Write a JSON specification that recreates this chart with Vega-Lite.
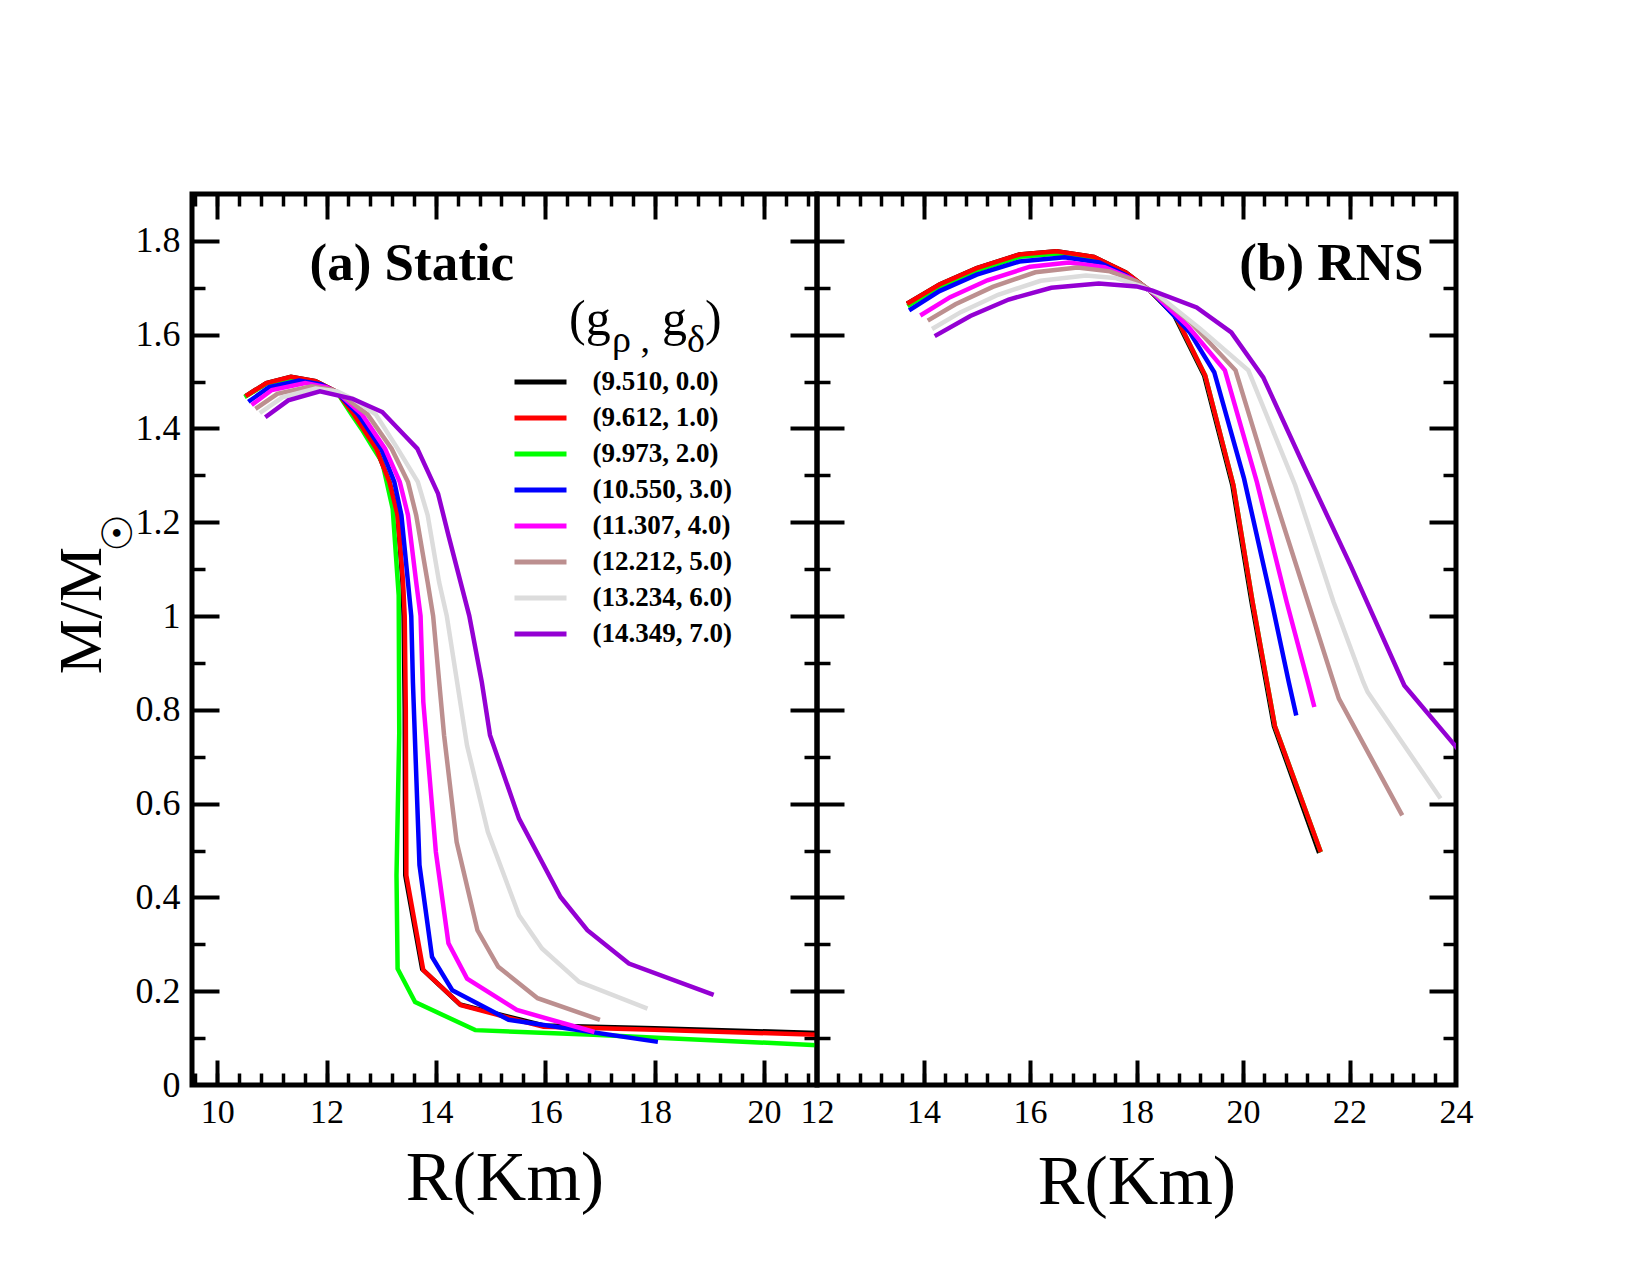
{
  "$schema": "https://vega.github.io/schema/vega-lite/v6.json",
  "background": "white",
  "padding": {"left": 47, "top": 189, "right": 5, "bottom": 5},
  "config": {
    "view": {"stroke": "black", "strokeWidth": 5},
    "font": "Liberation Serif",
    "axis": {
      "domain": false, "grid": false, "labelColor": "black", "titleColor": "black",
      "tickColor": "black", "labelFont": "Liberation Serif", "titleFont": "Liberation Serif",
      "titleFontWeight": "normal", "tickWidth": 4, "labelFlush": false, "labelOverlap": false
    }
  },
  "datasets": {
    "static": [
      {"s":"(9.510, 0.0)","R":10.52,"M":1.469},{"s":"(9.510, 0.0)","R":10.9,"M":1.497},{"s":"(9.510, 0.0)","R":11.35,"M":1.510},{"s":"(9.510, 0.0)","R":11.8,"M":1.501},{"s":"(9.510, 0.0)","R":12.2,"M":1.477},{"s":"(9.510, 0.0)","R":12.5,"M":1.43},{"s":"(9.510, 0.0)","R":12.91,"M":1.357},{"s":"(9.510, 0.0)","R":13.15,"M":1.286},{"s":"(9.510, 0.0)","R":13.30,"M":1.215},{"s":"(9.510, 0.0)","R":13.39,"M":1.072},{"s":"(9.510, 0.0)","R":13.41,"M":1.0},{"s":"(9.510, 0.0)","R":13.43,"M":0.8},{"s":"(9.510, 0.0)","R":13.44,"M":0.447},{"s":"(9.510, 0.0)","R":13.75,"M":0.247},{"s":"(9.510, 0.0)","R":14.44,"M":0.172},{"s":"(9.510, 0.0)","R":15.97,"M":0.127},{"s":"(9.510, 0.0)","R":18.0,"M":0.121},{"s":"(9.510, 0.0)","R":20.97,"M":0.111},
      {"s":"(9.973, 2.0)","R":10.50,"M":1.467},{"s":"(9.973, 2.0)","R":10.9,"M":1.495},{"s":"(9.973, 2.0)","R":11.35,"M":1.507},{"s":"(9.973, 2.0)","R":11.8,"M":1.499},{"s":"(9.973, 2.0)","R":12.2,"M":1.476},{"s":"(9.973, 2.0)","R":12.46,"M":1.43},{"s":"(9.973, 2.0)","R":12.64,"M":1.399},{"s":"(9.973, 2.0)","R":12.86,"M":1.357},{"s":"(9.973, 2.0)","R":13.02,"M":1.328},{"s":"(9.973, 2.0)","R":13.21,"M":1.229},{"s":"(9.973, 2.0)","R":13.32,"M":1.044},{"s":"(9.973, 2.0)","R":13.33,"M":0.75},{"s":"(9.973, 2.0)","R":13.28,"M":0.447},{"s":"(9.973, 2.0)","R":13.30,"M":0.248},{"s":"(9.973, 2.0)","R":13.62,"M":0.177},{"s":"(9.973, 2.0)","R":14.72,"M":0.117},{"s":"(9.973, 2.0)","R":16.88,"M":0.107},{"s":"(9.973, 2.0)","R":20.97,"M":0.085},
      {"s":"(9.612, 1.0)","R":10.52,"M":1.469},{"s":"(9.612, 1.0)","R":10.9,"M":1.497},{"s":"(9.612, 1.0)","R":11.35,"M":1.510},{"s":"(9.612, 1.0)","R":11.8,"M":1.501},{"s":"(9.612, 1.0)","R":12.2,"M":1.477},{"s":"(9.612, 1.0)","R":12.5,"M":1.43},{"s":"(9.612, 1.0)","R":12.91,"M":1.357},{"s":"(9.612, 1.0)","R":13.15,"M":1.286},{"s":"(9.612, 1.0)","R":13.30,"M":1.215},{"s":"(9.612, 1.0)","R":13.40,"M":1.072},{"s":"(9.612, 1.0)","R":13.43,"M":1.0},{"s":"(9.612, 1.0)","R":13.45,"M":0.8},{"s":"(9.612, 1.0)","R":13.46,"M":0.447},{"s":"(9.612, 1.0)","R":13.77,"M":0.245},{"s":"(9.612, 1.0)","R":14.46,"M":0.170},{"s":"(9.612, 1.0)","R":15.97,"M":0.124},{"s":"(9.612, 1.0)","R":18.0,"M":0.118},{"s":"(9.612, 1.0)","R":20.97,"M":0.107},
      {"s":"(10.550, 3.0)","R":10.57,"M":1.457},{"s":"(10.550, 3.0)","R":10.95,"M":1.488},{"s":"(10.550, 3.0)","R":11.5,"M":1.502},{"s":"(10.550, 3.0)","R":11.9,"M":1.494},{"s":"(10.550, 3.0)","R":12.2,"M":1.476},{"s":"(10.550, 3.0)","R":12.58,"M":1.43},{"s":"(10.550, 3.0)","R":13.0,"M":1.357},{"s":"(10.550, 3.0)","R":13.24,"M":1.286},{"s":"(10.550, 3.0)","R":13.37,"M":1.215},{"s":"(10.550, 3.0)","R":13.49,"M":1.072},{"s":"(10.550, 3.0)","R":13.55,"M":1.0},{"s":"(10.550, 3.0)","R":13.58,"M":0.859},{"s":"(10.550, 3.0)","R":13.70,"M":0.469},{"s":"(10.550, 3.0)","R":13.93,"M":0.273},{"s":"(10.550, 3.0)","R":14.30,"M":0.202},{"s":"(10.550, 3.0)","R":15.33,"M":0.139},{"s":"(10.550, 3.0)","R":18.06,"M":0.092},
      {"s":"(11.307, 4.0)","R":10.63,"M":1.450},{"s":"(11.307, 4.0)","R":11.0,"M":1.482},{"s":"(11.307, 4.0)","R":11.61,"M":1.497},{"s":"(11.307, 4.0)","R":12.0,"M":1.488},{"s":"(11.307, 4.0)","R":12.25,"M":1.472},{"s":"(11.307, 4.0)","R":12.65,"M":1.43},{"s":"(11.307, 4.0)","R":13.07,"M":1.357},{"s":"(11.307, 4.0)","R":13.34,"M":1.286},{"s":"(11.307, 4.0)","R":13.49,"M":1.215},{"s":"(11.307, 4.0)","R":13.64,"M":1.072},{"s":"(11.307, 4.0)","R":13.72,"M":1.0},{"s":"(11.307, 4.0)","R":13.77,"M":0.817},{"s":"(11.307, 4.0)","R":14.00,"M":0.497},{"s":"(11.307, 4.0)","R":14.23,"M":0.302},{"s":"(11.307, 4.0)","R":14.57,"M":0.227},{"s":"(11.307, 4.0)","R":15.48,"M":0.160},{"s":"(11.307, 4.0)","R":16.9,"M":0.113},
      {"s":"(12.212, 5.0)","R":10.70,"M":1.442},{"s":"(12.212, 5.0)","R":11.1,"M":1.474},{"s":"(12.212, 5.0)","R":11.73,"M":1.490},{"s":"(12.212, 5.0)","R":12.1,"M":1.483},{"s":"(12.212, 5.0)","R":12.35,"M":1.465},{"s":"(12.212, 5.0)","R":12.75,"M":1.43},{"s":"(12.212, 5.0)","R":13.19,"M":1.357},{"s":"(12.212, 5.0)","R":13.49,"M":1.286},{"s":"(12.212, 5.0)","R":13.64,"M":1.215},{"s":"(12.212, 5.0)","R":13.85,"M":1.072},{"s":"(12.212, 5.0)","R":13.95,"M":1.0},{"s":"(12.212, 5.0)","R":14.15,"M":0.746},{"s":"(12.212, 5.0)","R":14.38,"M":0.518},{"s":"(12.212, 5.0)","R":14.76,"M":0.330},{"s":"(12.212, 5.0)","R":15.14,"M":0.252},{"s":"(12.212, 5.0)","R":15.86,"M":0.185},{"s":"(12.212, 5.0)","R":17.0,"M":0.139},
      {"s":"(13.234, 6.0)","R":10.78,"M":1.433},{"s":"(13.234, 6.0)","R":11.2,"M":1.467},{"s":"(13.234, 6.0)","R":11.8,"M":1.485},{"s":"(13.234, 6.0)","R":12.2,"M":1.479},{"s":"(13.234, 6.0)","R":12.5,"M":1.462},{"s":"(13.234, 6.0)","R":12.9,"M":1.43},{"s":"(13.234, 6.0)","R":13.30,"M":1.357},{"s":"(13.234, 6.0)","R":13.67,"M":1.286},{"s":"(13.234, 6.0)","R":13.85,"M":1.215},{"s":"(13.234, 6.0)","R":14.06,"M":1.072},{"s":"(13.234, 6.0)","R":14.20,"M":1.0},{"s":"(13.234, 6.0)","R":14.57,"M":0.724},{"s":"(13.234, 6.0)","R":14.95,"M":0.540},{"s":"(13.234, 6.0)","R":15.52,"M":0.362},{"s":"(13.234, 6.0)","R":15.94,"M":0.291},{"s":"(13.234, 6.0)","R":16.62,"M":0.220},{"s":"(13.234, 6.0)","R":17.87,"M":0.163},
      {"s":"(14.349, 7.0)","R":10.88,"M":1.424},{"s":"(14.349, 7.0)","R":11.3,"M":1.460},{"s":"(14.349, 7.0)","R":11.88,"M":1.479},{"s":"(14.349, 7.0)","R":12.48,"M":1.463},{"s":"(14.349, 7.0)","R":13.02,"M":1.435},{"s":"(14.349, 7.0)","R":13.43,"M":1.385},{"s":"(14.349, 7.0)","R":13.66,"M":1.357},{"s":"(14.349, 7.0)","R":14.04,"M":1.261},{"s":"(14.349, 7.0)","R":14.23,"M":1.172},{"s":"(14.349, 7.0)","R":14.61,"M":1.001},{"s":"(14.349, 7.0)","R":14.84,"M":0.859},{"s":"(14.349, 7.0)","R":14.99,"M":0.746},{"s":"(14.349, 7.0)","R":15.52,"M":0.568},{"s":"(14.349, 7.0)","R":16.28,"M":0.401},{"s":"(14.349, 7.0)","R":16.77,"M":0.330},{"s":"(14.349, 7.0)","R":17.53,"M":0.259},{"s":"(14.349, 7.0)","R":19.08,"M":0.192}
    ],
    "rns": [
      {"s":"(9.510, 0.0)","R":13.69,"M":1.666},{"s":"(9.510, 0.0)","R":14.3,"M":1.707},{"s":"(9.510, 0.0)","R":15.0,"M":1.742},{"s":"(9.510, 0.0)","R":15.8,"M":1.771},{"s":"(9.510, 0.0)","R":16.5,"M":1.778},{"s":"(9.510, 0.0)","R":17.2,"M":1.766},{"s":"(9.510, 0.0)","R":17.8,"M":1.733},{"s":"(9.510, 0.0)","R":18.25,"M":1.694},{"s":"(9.510, 0.0)","R":18.71,"M":1.641},{"s":"(9.510, 0.0)","R":19.27,"M":1.513},{"s":"(9.510, 0.0)","R":19.80,"M":1.279},{"s":"(9.510, 0.0)","R":20.16,"M":1.03},{"s":"(9.510, 0.0)","R":20.58,"M":0.765},{"s":"(9.510, 0.0)","R":21.43,"M":0.495},
      {"s":"(9.973, 2.0)","R":13.70,"M":1.661},{"s":"(9.973, 2.0)","R":14.3,"M":1.702},{"s":"(9.973, 2.0)","R":15.0,"M":1.737},{"s":"(9.973, 2.0)","R":15.8,"M":1.766},{"s":"(9.973, 2.0)","R":16.55,"M":1.773},{"s":"(9.973, 2.0)","R":17.2,"M":1.762},{"s":"(9.973, 2.0)","R":17.8,"M":1.731},{"s":"(9.973, 2.0)","R":18.25,"M":1.694},{"s":"(9.973, 2.0)","R":18.73,"M":1.641},{"s":"(9.973, 2.0)","R":19.29,"M":1.513},{"s":"(9.973, 2.0)","R":19.82,"M":1.279},{"s":"(9.973, 2.0)","R":20.18,"M":1.03},{"s":"(9.973, 2.0)","R":20.60,"M":0.765},{"s":"(9.973, 2.0)","R":21.46,"M":0.497},
      {"s":"(9.612, 1.0)","R":13.69,"M":1.666},{"s":"(9.612, 1.0)","R":14.3,"M":1.707},{"s":"(9.612, 1.0)","R":15.0,"M":1.742},{"s":"(9.612, 1.0)","R":15.8,"M":1.771},{"s":"(9.612, 1.0)","R":16.5,"M":1.778},{"s":"(9.612, 1.0)","R":17.2,"M":1.766},{"s":"(9.612, 1.0)","R":17.8,"M":1.733},{"s":"(9.612, 1.0)","R":18.25,"M":1.694},{"s":"(9.612, 1.0)","R":18.73,"M":1.641},{"s":"(9.612, 1.0)","R":19.29,"M":1.513},{"s":"(9.612, 1.0)","R":19.82,"M":1.279},{"s":"(9.612, 1.0)","R":20.18,"M":1.03},{"s":"(9.612, 1.0)","R":20.60,"M":0.765},{"s":"(9.612, 1.0)","R":21.46,"M":0.497},
      {"s":"(10.550, 3.0)","R":13.73,"M":1.652},{"s":"(10.550, 3.0)","R":14.3,"M":1.693},{"s":"(10.550, 3.0)","R":15.0,"M":1.728},{"s":"(10.550, 3.0)","R":15.8,"M":1.756},{"s":"(10.550, 3.0)","R":16.65,"M":1.765},{"s":"(10.550, 3.0)","R":17.3,"M":1.754},{"s":"(10.550, 3.0)","R":17.8,"M":1.727},{"s":"(10.550, 3.0)","R":18.3,"M":1.690},{"s":"(10.550, 3.0)","R":19.0,"M":1.605},{"s":"(10.550, 3.0)","R":19.46,"M":1.520},{"s":"(10.550, 3.0)","R":20.02,"M":1.293},{"s":"(10.550, 3.0)","R":20.54,"M":1.03},{"s":"(10.550, 3.0)","R":20.86,"M":0.859},{"s":"(10.550, 3.0)","R":21.0,"M":0.788},
      {"s":"(11.307, 4.0)","R":13.94,"M":1.641},{"s":"(11.307, 4.0)","R":14.5,"M":1.680},{"s":"(11.307, 4.0)","R":15.2,"M":1.716},{"s":"(11.307, 4.0)","R":16.0,"M":1.745},{"s":"(11.307, 4.0)","R":16.73,"M":1.754},{"s":"(11.307, 4.0)","R":17.4,"M":1.744},{"s":"(11.307, 4.0)","R":17.9,"M":1.720},{"s":"(11.307, 4.0)","R":18.3,"M":1.690},{"s":"(11.307, 4.0)","R":18.95,"M":1.620},{"s":"(11.307, 4.0)","R":19.66,"M":1.524},{"s":"(11.307, 4.0)","R":20.26,"M":1.286},{"s":"(11.307, 4.0)","R":20.82,"M":1.03},{"s":"(11.307, 4.0)","R":21.22,"M":0.859},{"s":"(11.307, 4.0)","R":21.34,"M":0.806},
      {"s":"(12.212, 5.0)","R":14.08,"M":1.630},{"s":"(12.212, 5.0)","R":14.6,"M":1.665},{"s":"(12.212, 5.0)","R":15.3,"M":1.702},{"s":"(12.212, 5.0)","R":16.1,"M":1.733},{"s":"(12.212, 5.0)","R":16.89,"M":1.743},{"s":"(12.212, 5.0)","R":17.5,"M":1.735},{"s":"(12.212, 5.0)","R":18.0,"M":1.714},{"s":"(12.212, 5.0)","R":18.3,"M":1.692},{"s":"(12.212, 5.0)","R":19.0,"M":1.628},{"s":"(12.212, 5.0)","R":19.86,"M":1.524},{"s":"(12.212, 5.0)","R":20.50,"M":1.286},{"s":"(12.212, 5.0)","R":21.22,"M":1.03},{"s":"(12.212, 5.0)","R":21.70,"M":0.859},{"s":"(12.212, 5.0)","R":21.80,"M":0.824},{"s":"(12.212, 5.0)","R":22.99,"M":0.575},
      {"s":"(13.234, 6.0)","R":14.16,"M":1.612},{"s":"(13.234, 6.0)","R":14.7,"M":1.648},{"s":"(13.234, 6.0)","R":15.4,"M":1.685},{"s":"(13.234, 6.0)","R":16.2,"M":1.715},{"s":"(13.234, 6.0)","R":17.05,"M":1.726},{"s":"(13.234, 6.0)","R":17.6,"M":1.721},{"s":"(13.234, 6.0)","R":18.1,"M":1.703},{"s":"(13.234, 6.0)","R":18.4,"M":1.685},{"s":"(13.234, 6.0)","R":19.2,"M":1.612},{"s":"(13.234, 6.0)","R":20.10,"M":1.524},{"s":"(13.234, 6.0)","R":20.98,"M":1.279},{"s":"(13.234, 6.0)","R":21.70,"M":1.03},{"s":"(13.234, 6.0)","R":22.26,"M":0.859},{"s":"(13.234, 6.0)","R":22.34,"M":0.838},{"s":"(13.234, 6.0)","R":23.71,"M":0.611},
      {"s":"(14.349, 7.0)","R":14.21,"M":1.597},{"s":"(14.349, 7.0)","R":14.88,"M":1.640},{"s":"(14.349, 7.0)","R":15.6,"M":1.675},{"s":"(14.349, 7.0)","R":16.4,"M":1.700},{"s":"(14.349, 7.0)","R":17.29,"M":1.709},{"s":"(14.349, 7.0)","R":18.0,"M":1.703},{"s":"(14.349, 7.0)","R":18.3,"M":1.694},{"s":"(14.349, 7.0)","R":19.13,"M":1.658},{"s":"(14.349, 7.0)","R":19.78,"M":1.605},{"s":"(14.349, 7.0)","R":20.38,"M":1.509},{"s":"(14.349, 7.0)","R":21.14,"M":1.321},{"s":"(14.349, 7.0)","R":22.02,"M":1.108},{"s":"(14.349, 7.0)","R":23.03,"M":0.852},{"s":"(14.349, 7.0)","R":23.95,"M":0.728},{"s":"(14.349, 7.0)","R":24.4,"M":0.667}
    ]
  },
  "hconcat": [
    {
      "width": 625,
      "height": 891,
      "resolve": {"axis": {"x": "independent", "y": "independent"}},
      "layer": [
        {
          "data": {"name": "static"},
          "mark": {"type": "line", "strokeWidth": 4.5, "clip": true},
          "encoding": {
            "x": {"field": "R", "type": "quantitative", "scale": {"domain": [9.54, 20.97], "nice": false, "zero": false},
              "axis": {"orient": "bottom", "values": [10, 12, 14, 16, 18, 20], "format": "~g", "ticks": false,
                "labelFontSize": 34, "labelPadding": 37, "labelBaseline": "alphabetic",
                "title": "R(Km)", "titleFontSize": 70, "titleY": 114, "titleBaseline": "alphabetic"}},
            "y": {"field": "M", "type": "quantitative", "scale": {"domain": [0, 1.9], "nice": false, "zero": false},
              "axis": {"orient": "left", "values": [0, 0.2, 0.4, 0.6, 0.8, 1, 1.2, 1.4, 1.6, 1.8], "format": "~g", "ticks": false,
                "labelFontSize": 36, "labelPadding": 12,
                "title": "M/M", "titleFontSize": 62, "titleAngle": 270, "titleX": -92, "titleY": 416,
                "titleBaseline": "alphabetic", "titleAlign": "center"}},
            "color": {"field": "s", "type": "nominal",
              "scale": {
                "domain": ["(9.510, 0.0)", "(9.612, 1.0)", "(9.973, 2.0)", "(10.550, 3.0)", "(11.307, 4.0)", "(12.212, 5.0)", "(13.234, 6.0)", "(14.349, 7.0)"],
                "range": ["#000000", "#ff0000", "#00ff00", "#0000ff", "#ff00ff", "#bc8f8f", "#dcdcdc", "#9400d3"]},
              "legend": {"orient": "none", "legendX": 320, "legendY": 170, "title": null,
                "symbolType": "stroke", "symbolSize": 2704, "symbolStrokeWidth": 5,
                "labelFont": "Liberation Serif", "labelFontWeight": "bold", "labelFontSize": 27, "labelColor": "black",
                "labelOffset": 23.5, "rowPadding": 0, "clipHeight": 36, "padding": 0, "labelLimit": 300}},
            "order": {"value": null}
          }
        },
        {
          "data": {"values": [{}]},
          "mark": {"type": "point", "opacity": 0},
          "encoding": {
            "x": {"datum": 12, "type": "quantitative", "scale": {"domain": [9.54, 20.97], "nice": false, "zero": false},
              "axis": {"orient": "bottom", "values": [10, 12, 14, 16, 18, 20], "labels": false, "tickSize": -25, "title": null}},
            "y": {"datum": 1, "type": "quantitative", "scale": {"domain": [0, 1.9], "nice": false, "zero": false},
              "axis": {"orient": "left", "values": [0.2, 0.4, 0.6, 0.8, 1, 1.2, 1.4, 1.6, 1.8], "labels": false, "tickSize": -27, "title": null}}
          }
        },
        {
          "data": {"values": [{}]},
          "mark": {"type": "point", "opacity": 0},
          "encoding": {
            "x": {"datum": 12, "type": "quantitative", "scale": {"domain": [9.54, 20.97], "nice": false, "zero": false},
              "axis": {"orient": "bottom", "values": [9.6, 10, 10.4, 10.8, 11.2, 11.6, 12, 12.4, 12.8, 13.2, 13.6, 14, 14.4, 14.8, 15.2, 15.6, 16, 16.4, 16.8, 17.2, 17.6, 18, 18.4, 18.8, 19.2, 19.6, 20, 20.4, 20.8], "labels": false, "tickSize": -12, "tickWidth": 3.5, "title": null}},
            "y": {"datum": 1, "type": "quantitative", "scale": {"domain": [0, 1.9], "nice": false, "zero": false},
              "axis": {"orient": "left", "values": [0.1, 0.3, 0.5, 0.7, 0.9, 1.1, 1.3, 1.5, 1.7], "labels": false, "tickSize": -13, "tickWidth": 3.5, "title": null}}
          }
        },
        {
          "data": {"values": [{}]},
          "mark": {"type": "point", "opacity": 0},
          "encoding": {
            "x": {"datum": 12, "type": "quantitative", "scale": {"domain": [9.54, 20.97], "nice": false, "zero": false},
              "axis": {"orient": "top", "values": [10, 12, 14, 16, 18, 20], "labels": false, "tickSize": -25, "title": null}},
            "y": {"datum": 1, "type": "quantitative", "scale": {"domain": [0, 1.9], "nice": false, "zero": false},
              "axis": {"orient": "right", "values": [0.2, 0.4, 0.6, 0.8, 1, 1.2, 1.4, 1.6, 1.8], "labels": false, "tickSize": -27, "title": null}}
          }
        },
        {
          "data": {"values": [{}]},
          "mark": {"type": "point", "opacity": 0},
          "encoding": {
            "x": {"datum": 12, "type": "quantitative", "scale": {"domain": [9.54, 20.97], "nice": false, "zero": false},
              "axis": {"orient": "top", "values": [9.6, 10, 10.4, 10.8, 11.2, 11.6, 12, 12.4, 12.8, 13.2, 13.6, 14, 14.4, 14.8, 15.2, 15.6, 16, 16.4, 16.8, 17.2, 17.6, 18, 18.4, 18.8, 19.2, 19.6, 20, 20.4, 20.8], "labels": false, "tickSize": -12, "tickWidth": 3.5, "title": null}},
            "y": {"datum": 1, "type": "quantitative", "scale": {"domain": [0, 1.9], "nice": false, "zero": false},
              "axis": {"orient": "right", "values": [0.1, 0.3, 0.5, 0.7, 0.9, 1.1, 1.3, 1.5, 1.7], "labels": false, "tickSize": -13, "tickWidth": 3.5, "title": null}}
          }
        },
        {
          "data": {"values": [{}]},
          "mark": {"type": "text", "text": "(a) Static", "font": "Liberation Serif", "fontWeight": "bold", "fontSize": 53, "align": "left", "baseline": "alphabetic", "color": "black"},
          "encoding": {
            "x": {"datum": 11.69, "type": "quantitative", "scale": {"domain": [9.54, 20.97], "nice": false, "zero": false}, "axis": null},
            "y": {"datum": 1.7166, "type": "quantitative", "scale": {"domain": [0, 1.9], "nice": false, "zero": false}, "axis": null}
          }
        },
        {
          "data": {"values": [{}]},
          "mark": {"type": "text", "text": "(g", "font": "Liberation Serif", "fontSize": 50, "align": "left", "baseline": "alphabetic", "color": "black"},
          "encoding": {
            "x": {"datum": 16.435, "type": "quantitative", "scale": {"domain": [9.54, 20.97], "nice": false, "zero": false}, "axis": null},
            "y": {"datum": 1.5993, "type": "quantitative", "scale": {"domain": [0, 1.9], "nice": false, "zero": false}, "axis": null}
          }
        },
        {
          "data": {"values": [{}]},
          "mark": {"type": "text", "text": "ρ ,", "font": "Liberation Serif", "fontSize": 38, "align": "left", "baseline": "alphabetic", "color": "black"},
          "encoding": {
            "x": {"datum": 17.221, "type": "quantitative", "scale": {"domain": [9.54, 20.97], "nice": false, "zero": false}, "axis": null},
            "y": {"datum": 1.5631, "type": "quantitative", "scale": {"domain": [0, 1.9], "nice": false, "zero": false}, "axis": null}
          }
        },
        {
          "data": {"values": [{}]},
          "mark": {"type": "text", "text": "g", "font": "Liberation Serif", "fontSize": 50, "align": "left", "baseline": "alphabetic", "color": "black"},
          "encoding": {
            "x": {"datum": 18.135, "type": "quantitative", "scale": {"domain": [9.54, 20.97], "nice": false, "zero": false}, "axis": null},
            "y": {"datum": 1.5993, "type": "quantitative", "scale": {"domain": [0, 1.9], "nice": false, "zero": false}, "axis": null}
          }
        },
        {
          "data": {"values": [{}]},
          "mark": {"type": "text", "text": "δ", "font": "Liberation Serif", "fontSize": 38, "align": "left", "baseline": "alphabetic", "color": "black"},
          "encoding": {
            "x": {"datum": 18.593, "type": "quantitative", "scale": {"domain": [9.54, 20.97], "nice": false, "zero": false}, "axis": null},
            "y": {"datum": 1.5631, "type": "quantitative", "scale": {"domain": [0, 1.9], "nice": false, "zero": false}, "axis": null}
          }
        },
        {
          "data": {"values": [{}]},
          "mark": {"type": "text", "text": ")", "font": "Liberation Serif", "fontSize": 50, "align": "left", "baseline": "alphabetic", "color": "black"},
          "encoding": {
            "x": {"datum": 18.922, "type": "quantitative", "scale": {"domain": [9.54, 20.97], "nice": false, "zero": false}, "axis": null},
            "y": {"datum": 1.5993, "type": "quantitative", "scale": {"domain": [0, 1.9], "nice": false, "zero": false}, "axis": null}
          }
        },
        {
          "data": {"values": [{}]},
          "mark": {"type": "text", "text": "☉", "font": "DejaVu Sans", "fontWeight": "bold", "fontSize": 42, "align": "center", "baseline": "middle", "angle": 270, "color": "black"},
          "encoding": {
            "x": {"datum": 8.196, "type": "quantitative", "scale": {"domain": [9.54, 20.97], "nice": false, "zero": false}, "axis": null},
            "y": {"datum": 1.1771, "type": "quantitative", "scale": {"domain": [0, 1.9], "nice": false, "zero": false}, "axis": null}
          }
        }
      ]
    },
    {
      "width": 639,
      "height": 891,
      "resolve": {"axis": {"x": "independent", "y": "independent"}},
      "layer": [
        {
          "data": {"name": "rns"},
          "mark": {"type": "line", "strokeWidth": 4.5, "clip": true},
          "encoding": {
            "x": {"field": "R", "type": "quantitative", "scale": {"domain": [12, 24], "nice": false, "zero": false},
              "axis": {"orient": "bottom", "values": [12, 14, 16, 18, 20, 22, 24], "format": "~g", "ticks": false,
                "labelFontSize": 34, "labelPadding": 37, "labelBaseline": "alphabetic",
                "title": "R(Km)", "titleFontSize": 70, "titleY": 118, "titleBaseline": "alphabetic"}},
            "y": {"field": "M", "type": "quantitative", "scale": {"domain": [0, 1.9], "nice": false, "zero": false}, "axis": null},
            "color": {"field": "s", "type": "nominal",
              "scale": {
                "domain": ["(9.510, 0.0)", "(9.612, 1.0)", "(9.973, 2.0)", "(10.550, 3.0)", "(11.307, 4.0)", "(12.212, 5.0)", "(13.234, 6.0)", "(14.349, 7.0)"],
                "range": ["#000000", "#ff0000", "#00ff00", "#0000ff", "#ff00ff", "#bc8f8f", "#dcdcdc", "#9400d3"]},
              "legend": null},
            "order": {"value": null}
          }
        },
        {
          "data": {"values": [{}]},
          "mark": {"type": "point", "opacity": 0},
          "encoding": {
            "x": {"datum": 18, "type": "quantitative", "scale": {"domain": [12, 24], "nice": false, "zero": false},
              "axis": {"orient": "bottom", "values": [14, 16, 18, 20, 22], "labels": false, "tickSize": -25, "title": null}},
            "y": {"datum": 1, "type": "quantitative", "scale": {"domain": [0, 1.9], "nice": false, "zero": false},
              "axis": {"orient": "left", "values": [0.2, 0.4, 0.6, 0.8, 1, 1.2, 1.4, 1.6, 1.8], "labels": false, "tickSize": -27, "title": null}}
          }
        },
        {
          "data": {"values": [{}]},
          "mark": {"type": "point", "opacity": 0},
          "encoding": {
            "x": {"datum": 18, "type": "quantitative", "scale": {"domain": [12, 24], "nice": false, "zero": false},
              "axis": {"orient": "bottom", "values": [12.4, 12.8, 13.2, 13.6, 14, 14.4, 14.8, 15.2, 15.6, 16, 16.4, 16.8, 17.2, 17.6, 18, 18.4, 18.8, 19.2, 19.6, 20, 20.4, 20.8, 21.2, 21.6, 22, 22.4, 22.8, 23.2, 23.6], "labels": false, "tickSize": -12, "tickWidth": 3.5, "title": null}},
            "y": {"datum": 1, "type": "quantitative", "scale": {"domain": [0, 1.9], "nice": false, "zero": false},
              "axis": {"orient": "left", "values": [0.1, 0.3, 0.5, 0.7, 0.9, 1.1, 1.3, 1.5, 1.7], "labels": false, "tickSize": -13, "tickWidth": 3.5, "title": null}}
          }
        },
        {
          "data": {"values": [{}]},
          "mark": {"type": "point", "opacity": 0},
          "encoding": {
            "x": {"datum": 18, "type": "quantitative", "scale": {"domain": [12, 24], "nice": false, "zero": false},
              "axis": {"orient": "top", "values": [14, 16, 18, 20, 22], "labels": false, "tickSize": -25, "title": null}},
            "y": {"datum": 1, "type": "quantitative", "scale": {"domain": [0, 1.9], "nice": false, "zero": false},
              "axis": {"orient": "right", "values": [0.2, 0.4, 0.6, 0.8, 1, 1.2, 1.4, 1.6, 1.8], "labels": false, "tickSize": -27, "title": null}}
          }
        },
        {
          "data": {"values": [{}]},
          "mark": {"type": "point", "opacity": 0},
          "encoding": {
            "x": {"datum": 18, "type": "quantitative", "scale": {"domain": [12, 24], "nice": false, "zero": false},
              "axis": {"orient": "top", "values": [12.4, 12.8, 13.2, 13.6, 14, 14.4, 14.8, 15.2, 15.6, 16, 16.4, 16.8, 17.2, 17.6, 18, 18.4, 18.8, 19.2, 19.6, 20, 20.4, 20.8, 21.2, 21.6, 22, 22.4, 22.8, 23.2, 23.6], "labels": false, "tickSize": -12, "tickWidth": 3.5, "title": null}},
            "y": {"datum": 1, "type": "quantitative", "scale": {"domain": [0, 1.9], "nice": false, "zero": false},
              "axis": {"orient": "right", "values": [0.1, 0.3, 0.5, 0.7, 0.9, 1.1, 1.3, 1.5, 1.7], "labels": false, "tickSize": -13, "tickWidth": 3.5, "title": null}}
          }
        },
        {
          "data": {"values": [{}]},
          "mark": {"type": "text", "text": "(b) RNS", "font": "Liberation Serif", "fontWeight": "bold", "fontSize": 53, "align": "right", "baseline": "alphabetic", "color": "black"},
          "encoding": {
            "x": {"datum": 23.388, "type": "quantitative", "scale": {"domain": [12, 24], "nice": false, "zero": false}, "axis": null},
            "y": {"datum": 1.7166, "type": "quantitative", "scale": {"domain": [0, 1.9], "nice": false, "zero": false}, "axis": null}
          }
        }
      ]
    }
  ],
  "spacing": 0,
  "bounds": "flush",
  "resolve": {"scale": {"x": "independent", "y": "independent", "color": "independent"}, "legend": {"color": "independent"}}
}
